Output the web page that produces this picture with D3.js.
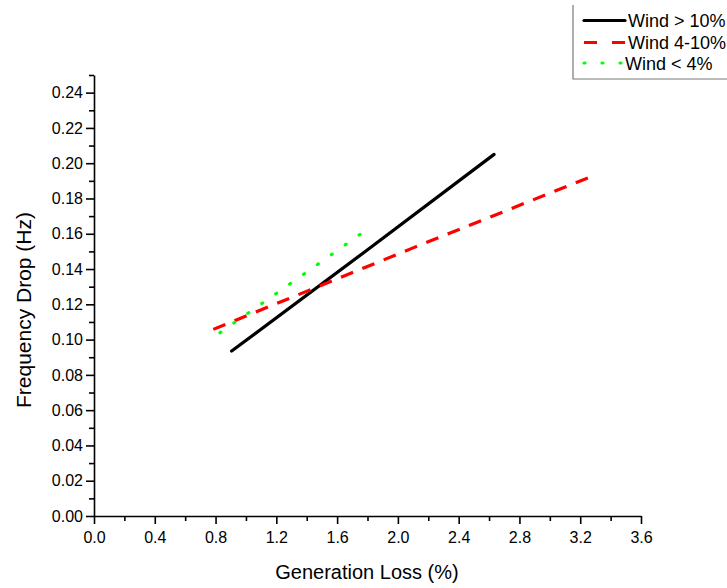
<!DOCTYPE html>
<html>
<head>
<meta charset="utf-8">
<script src="https://cdn.jsdelivr.net/npm/d3@7"></script>
<style>
  body { margin: 0; background: #fff; }
  svg text { font-family: "Liberation Sans", Arial, Helvetica, sans-serif; fill: #000; }
</style>
</head>
<body>
<div id="container"></div>
<script>
const w = 727;
const h = 588;

// series
const seriesNames = ["Wind > 10%", "Wind 4-10%", "Wind < 4%"];
const highX = [0.906, 1.77, 2.633];
const highY = [0.0935, 0.149, 0.205];
const midX = [0.785, 2.10, 3.29];
const midY = [0.1058, 0.152, 0.193];
const lowX = [0.829, 1.33, 1.834];
const lowY = [0.1039, 0.134, 0.1647];

const xTicks = [0.0, 0.4, 0.8, 1.2, 1.6, 2.0, 2.4, 2.8, 3.2, 3.6];
const xMinor = [0.2, 0.6, 1.0, 1.4, 1.8, 2.2, 2.6, 3.0, 3.4];
const yTicks = [0.00, 0.02, 0.04, 0.06, 0.08, 0.10, 0.12, 0.14, 0.16, 0.18, 0.20, 0.22, 0.24];
const yMinor = [0.01, 0.03, 0.05, 0.07, 0.09, 0.11, 0.13, 0.15, 0.17, 0.19, 0.21, 0.23, 0.25];

const svg = d3.select("#container")
  .append("svg")
  .attr("width", w)
  .attr("height", h);

const xScale = d3.scaleLinear().domain([0, 3.6]).range([94, 641]);
const yScale = d3.scaleLinear().domain([0, 0.25]).range([516, 75]);

// minor ticks first, then major axes on top
svg.append("g")
  .attr("transform", "translate(0,516)")
  .call(d3.axisBottom(xScale).tickValues(xMinor).tickSize(5).tickFormat(""))
  .call(g => g.select(".domain").remove());

svg.append("g")
  .attr("transform", "translate(94,0)")
  .call(d3.axisLeft(yScale).tickValues(yMinor).tickSize(5).tickFormat(""))
  .call(g => g.select(".domain").remove());

const xAxis = svg.append("g")
  .attr("transform", "translate(0,516)")
  .call(d3.axisBottom(xScale).tickValues(xTicks).tickSize(8).tickSizeOuter(0)
    .tickPadding(8).tickFormat(d3.format(".1f")));

const yAxis = svg.append("g")
  .attr("transform", "translate(94,0)")
  .call(d3.axisLeft(yScale).tickValues(yTicks).tickSize(8).tickSizeOuter(0)
    .tickPadding(3).tickFormat(d3.format(".2f")));

svg.selectAll(".tick line, .domain")
  .attr("stroke", "#000")
  .attr("stroke-width", 1.6);
svg.selectAll(".tick text")
  .style("font-size", "16px");

// axis titles
svg.append("text")
  .attr("x", 367)
  .attr("y", 579)
  .attr("text-anchor", "middle")
  .style("font-size", "20px")
  .text("Generation Loss (%)");

svg.append("text")
  .attr("transform", "translate(31,310) rotate(-90)")
  .attr("text-anchor", "middle")
  .style("font-size", "21px")
  .text("Frequency Drop (Hz)");

// lines
const line = d3.line()
  .x(d => xScale(d[0]))
  .y(d => yScale(d[1]));

const styles = [
  { color: "#000000", dash: null, cap: "round" },
  { color: "#ff0000", dash: "13,10", cap: "butt" },
  { color: "#00ff00", dash: "1,16", cap: "round" }
];
const lineData = [
  d3.zip(highX, highY),
  d3.zip(midX, midY),
  d3.zip(lowX, lowY)
];

lineData.forEach((pts, i) => {
  svg.append("path")
    .datum(pts)
    .attr("d", line)
    .attr("fill", "none")
    .attr("stroke", styles[i].color)
    .attr("stroke-width", 3.2)
    .attr("stroke-linecap", styles[i].cap)
    .attr("stroke-dasharray", styles[i].dash);
});

// legend
const legend = svg.append("g");
legend.append("path")
  .attr("d", "M573,5V79H727")
  .attr("fill", "none")
  .attr("stroke", "#777")
  .attr("stroke-width", 1.2);

const legendDash = [null, "13,15", "1,17"];
const rowY = [20.5, 42.5, 63];
const textX = [628, 628, 625];
seriesNames.forEach((name, i) => {
  legend.append("line")
    .attr("x1", 584)
    .attr("x2", 625)
    .attr("y1", rowY[i])
    .attr("y2", rowY[i])
    .attr("stroke", styles[i].color)
    .attr("stroke-width", 3.2)
    .attr("stroke-linecap", styles[i].cap)
    .attr("stroke-dasharray", legendDash[i]);
  legend.append("text")
    .attr("x", textX[i])
    .attr("y", rowY[i] + 6.5)
    .style("font-size", "18px")
    .text(name);
});
</script>
</body>
</html>
